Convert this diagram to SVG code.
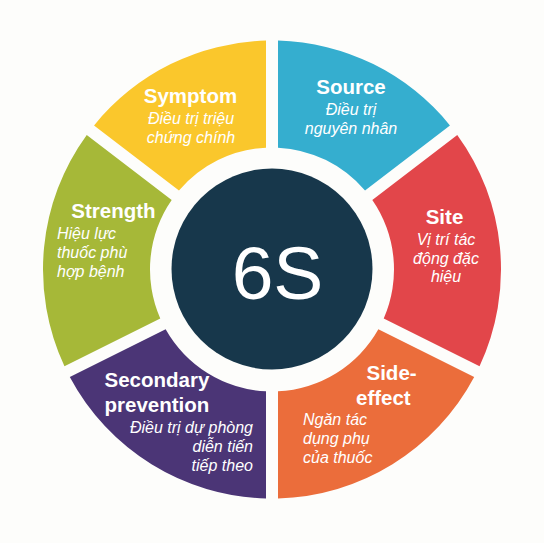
<svg xmlns="http://www.w3.org/2000/svg" width="544" height="543" viewBox="0 0 544 543">
<style>
.t{font-family:"Liberation Sans",Arial,sans-serif;font-weight:bold;font-size:20.5px;fill:#fff}
.s{font-family:"Liberation Sans",Arial,sans-serif;font-style:italic;font-size:16px;fill:#fff}
.m{text-anchor:middle}
.e{text-anchor:end}
</style>
<rect width="544" height="543" fill="#FDFDFB"/>
<g id="source">
<path d="M449.96,125.39 A229,229 0 0 0 278,40.58 L278,147.65 A122,122 0 0 1 365.03,190.57 Z" fill="#35AECF"/>
<text class="t m" x="351" y="94">Source</text>
<text class="s m" x="351" y="115">Điều trị</text>
<text class="s m" x="351" y="134">nguyên nhân</text>
</g>
<g id="symptom">
<path d="M266,40.58 A229,229 0 0 0 94.04,125.39 L178.97,190.57 A122,122 0 0 1 266,147.65 Z" fill="#FAC72C"/>
<text class="t m" x="190.5" y="102.5">Symptom</text>
<text class="s m" x="191" y="124">Điều trị triệu</text>
<text class="s m" x="191" y="143">chứng chính</text>
</g>
<g id="strength">
<path d="M86.74,134.89 A229,229 0 0 0 64.46,366.28 L160.27,318.51 A122,122 0 0 1 171.68,200.08 Z" fill="#A6B838"/>
<text class="t m" x="113.5" y="218">Strength</text>
<text class="s" x="57" y="239">Hiệu lực</text>
<text class="s" x="57" y="258">thuốc phù</text>
<text class="s" x="57" y="277">hợp bệnh</text>
</g>
<g id="secondary">
<path d="M69.81,377.02 A229,229 0 0 0 266,498.42 L266,391.35 A122,122 0 0 1 165.63,329.24 Z" fill="#4B3576"/>
<text class="t" x="104.5" y="386.5">Secondary</text>
<text class="t" x="104.5" y="411.5">prevention</text>
<text class="s e" x="253" y="433">Điều trị dự phòng</text>
<text class="s e" x="253" y="452">diễn tiến</text>
<text class="s e" x="253" y="471">tiếp theo</text>
</g>
<g id="side-effect">
<path d="M278,498.42 A229,229 0 0 0 474.19,377.02 L378.37,329.24 A122,122 0 0 1 278,391.35 Z" fill="#EB6D3B"/>
<text class="t" x="366.5" y="379.5">Side-</text>
<text class="t" x="356" y="404.5">effect</text>
<text class="s" x="303" y="425">Ngăn tác</text>
<text class="s" x="303" y="444">dụng phụ</text>
<text class="s" x="303" y="463">của thuốc</text>
</g>
<g id="site">
<path d="M479.54,366.28 A229,229 0 0 0 457.26,134.89 L372.32,200.08 A122,122 0 0 1 383.73,318.51 Z" fill="#E2464A"/>
<text class="t m" x="444.5" y="223.5">Site</text>
<text class="s m" x="446" y="245">Vị trí tác</text>
<text class="s m" x="446" y="264">động đặc</text>
<text class="s m" x="446" y="282">hiệu</text>
</g>
<g id="center">
<circle cx="272" cy="269" r="100.5" fill="#17374B"/>
<text x="277.5" y="299" text-anchor="middle" style="font-family:'Liberation Sans',Arial,sans-serif;font-size:75px;fill:#fff">6S</text>
</g>
</svg>
